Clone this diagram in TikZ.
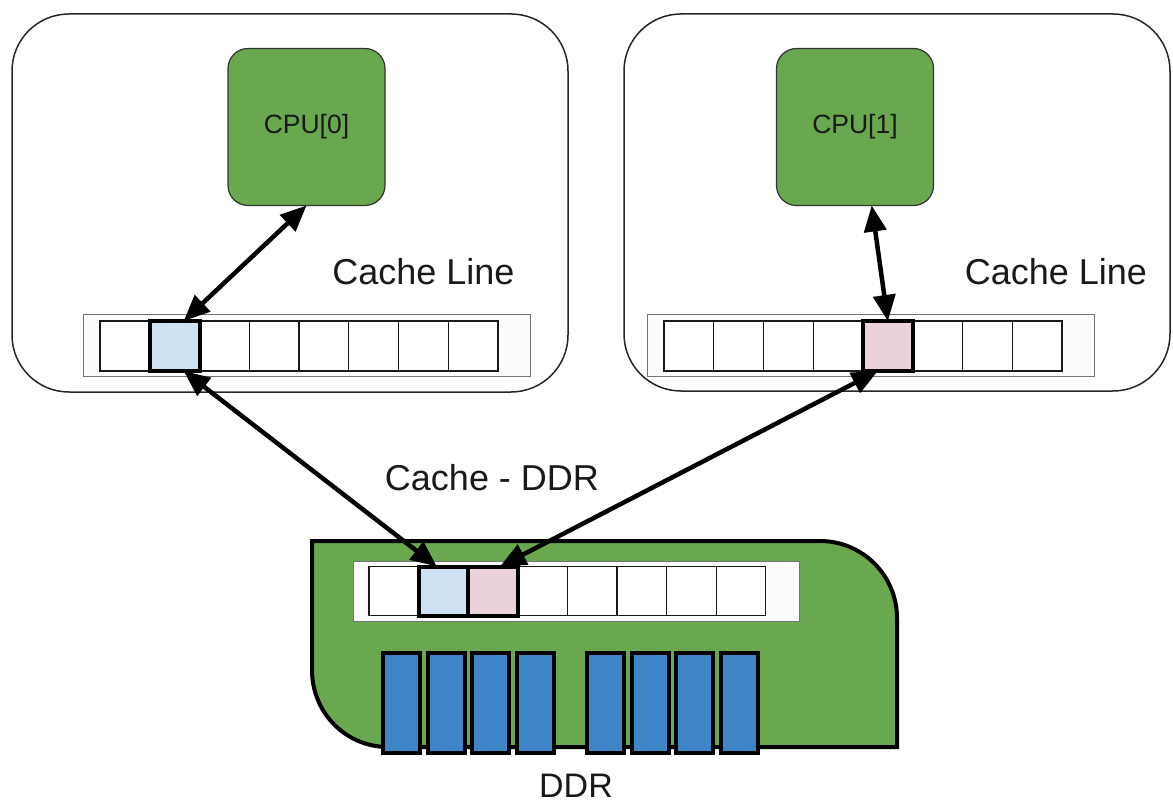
\documentclass[tikz,border=0pt]{standalone}
\usepackage{fontspec}
\setmainfont{Liberation Sans}
\usetikzlibrary{arrows.meta,calc}
\definecolor{boardgreen}{HTML}{6AA84F}
\definecolor{chipblue}{HTML}{3D85C6}
\definecolor{lineblue}{HTML}{CFE2F3}
\definecolor{linepink}{HTML}{EAD1DC}
\begin{document}
\begin{tikzpicture}[x=1pt,y=-1pt,
  panel/.style={draw=black!85, line width=1.5pt, rounded corners=57pt, anchor=north west, inner sep=0pt, outer sep=0pt},
  cpu/.style={draw=black!80, line width=1.2pt, fill=boardgreen, rounded corners=20pt, minimum width=157pt, minimum height=157pt, inner sep=0pt, outer sep=0pt, text=black!90, font=\fontsize{26.5}{30}\selectfont},
  tray/.style={draw=black!55, line width=1pt, fill=black!1, anchor=north west, inner sep=0pt, outer sep=0pt},
  slot/.style={draw=black!90, line width=1.3pt, fill=white, minimum width=49.75pt, minimum height=50pt, inner sep=0pt, outer sep=0pt},
  hot/.style={draw=black, line width=4pt},
  chip/.style={draw=black, line width=4pt, fill=chipblue, minimum width=37pt, minimum height=100pt, inner sep=0pt, outer sep=0pt, anchor=north west},
  caption/.style={font=\fontsize{36}{40}\selectfont, anchor=base, inner sep=0pt, text=black!90},
  link/.style={line width=4.5pt, {Triangle[length=26pt,width=22pt]}-{Triangle[length=26pt,width=22pt]}}
]
\useasboundingbox (0,0) rectangle (1173,805);

% core panels
\node[panel, minimum width=556pt, minimum height=378pt] (core0) at (12,14) {};
\node[panel, minimum width=546pt, minimum height=377pt] (core1) at (624,14) {};

% cache lines inside the cores
\node[tray, minimum width=447pt, minimum height=62pt] (tray0) at (83,314) {};
\node[tray, minimum width=447pt, minimum height=62pt] (tray1) at (647,314) {};
\foreach \i in {0,...,7} {
  \node[slot] (L\i) at ({100+49.75*(\i+0.5)},346) {};
  \node[slot] (R\i) at ({664+49.75*(\i+0.5)},346) {};
}
\node[slot, hot, fill=lineblue] (Lhot) at (L1) {};
\node[slot, hot, fill=linepink] (Rhot) at (R4) {};

% CPUs
\node[cpu] (cpu0) at (306.5,127) {CPU[0]};
\node[cpu] (cpu1) at (855,127) {CPU[1]};

% DDR board
\draw[line width=4pt, fill=boardgreen]
  (312,541) -- (820,541) .. controls (862.5,541) and (897,575.5) .. (897,618)
  -- (897,747) -- (388,747) .. controls (345.5,747) and (312,712.5) .. (312,670) -- cycle;
\node[tray, minimum width=446pt, minimum height=60pt] (tray2) at (353,561) {};
\foreach \i in {0,...,7} {
  \node[slot, minimum width=49.6pt, minimum height=49pt] (D\i) at ({369+49.6*(\i+0.5)},591) {};
}
\node[slot, hot, minimum width=49.6pt, minimum height=49pt, fill=lineblue] (Dblue) at (D1) {};
\node[slot, hot, minimum width=49.6pt, minimum height=49pt, fill=linepink] (Dpink) at (D2) {};

% memory chips
\foreach \x [count=\k] in {383,427.5,472,516.5,587,631.5,676,720.5}
  \node[chip] (chip\k) at (\x,653) {};

% transfers
\draw[link] (cpu0.south) -- (Lhot.70);
\draw[link] (cpu1.-78) -- (Rhot.north);
\draw[link] (Lhot.-70) -- (Dblue.105);
\draw[link] (Rhot.-112) -- (Dpink.74);

% labels
\node[caption] (cl0) at (423.5,284) {Cache Line};
\node[caption] (cl1) at (1056,284) {Cache Line};
\node[caption] (cd) at (492,490) {Cache - DDR};
\node[caption, font=\fontsize{34}{38}\selectfont] (ddr) at (576,797) {DDR};
\end{tikzpicture}
\end{document}
